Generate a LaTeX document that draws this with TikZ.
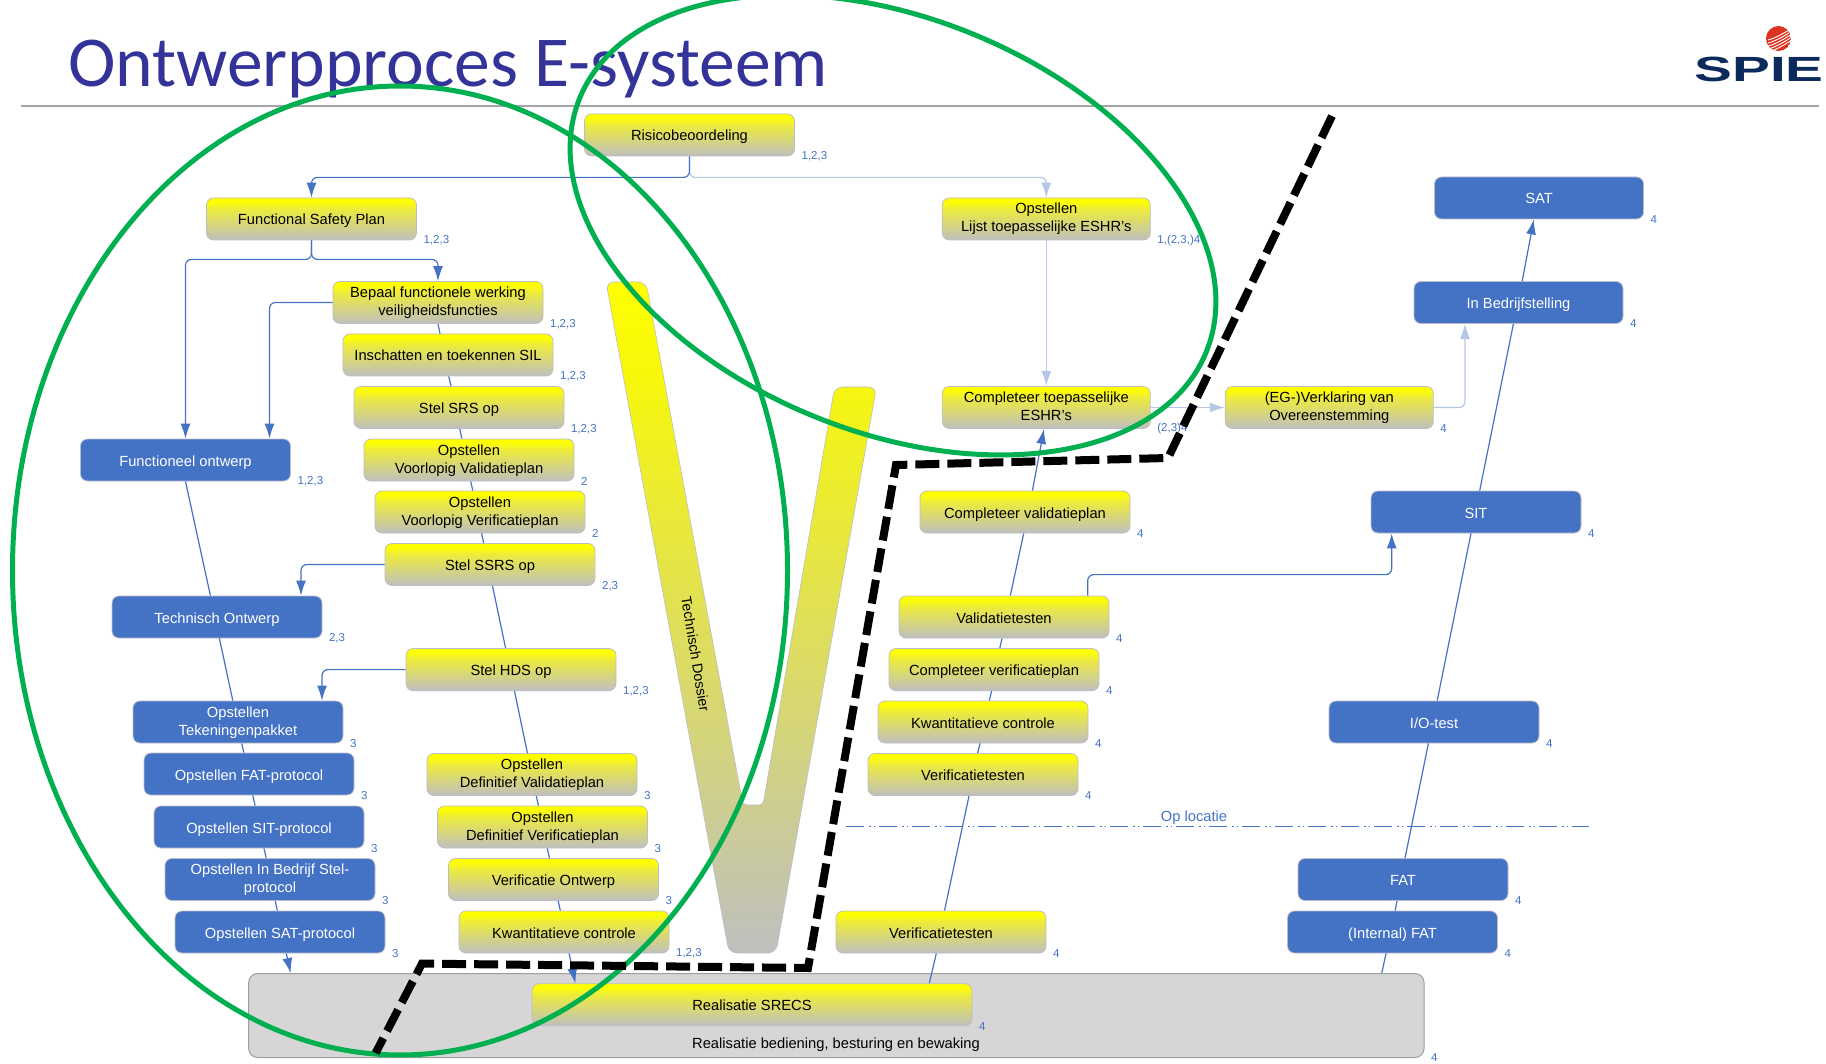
\documentclass[tikz,border=0pt]{standalone}
\usepackage{fontspec}
\setmainfont{Liberation Sans}
\newfontfamily\titlefont{Carlito}
\usetikzlibrary{arrows.meta}
\definecolor{cblue}{HTML}{4472C4}
\definecolor{clight}{HTML}{B4C7E7}
\definecolor{cgreen}{HTML}{00B050}
\definecolor{cedge}{HTML}{BDBDC8}
\definecolor{ctitle}{HTML}{333399}
\definecolor{cnavy}{HTML}{0B2A5B}
\definecolor{cgrey}{HTML}{D6D6D6}
\definecolor{cred}{HTML}{DC3220}
\definecolor{ygrey}{HTML}{BFBFBF}
\definecolor{ymid}{HTML}{EDEB3C}
\definecolor{vgrey}{HTML}{BFBFBF}
\definecolor{vmid}{HTML}{F7F70C}
\pgfdeclareverticalshading{ybox}{100bp}{color(0bp)=(ygrey);color(25bp)=(ygrey);color(62bp)=(ymid);color(71bp)=(yellow);color(100bp)=(yellow)}
\pgfdeclareverticalshading{vshape}{100bp}{color(0bp)=(vgrey);color(25bp)=(vgrey);color(68bp)=(vmid);color(75bp)=(yellow);color(100bp)=(yellow)}
\tikzset{
  boxbase/.style={rounded corners=7pt,minimum width=210pt,minimum height=42pt,inner sep=0pt,align=center,draw=cedge,line width=0.8pt,
    font=\fontsize{14.7}{18}\selectfont,execute at begin node={\rule[-3.5pt]{0pt}{19pt}}},
  twol/.style={execute at begin node={\rule[-3.5pt]{0pt}{33pt}}},
  ybox/.style={boxbase,shading=ybox,text=black},
  bbox/.style={boxbase,fill=cblue,text=white},
  numlab/.style={text=cblue,font=\fontsize{11.5}{13}\selectfont,inner sep=0pt,anchor=west,xshift=6.5pt},
  conn/.style={draw=cblue,line width=1.2pt},
  lconn/.style={draw=clight,line width=1.2pt},
  tip/.style={-{Latex[length=15pt,width=10pt]}},
  elbow/.style={rounded corners=6pt},
  greenring/.style={draw=cgreen,line width=5pt},
  blackdash/.style={draw=black,line width=8pt,dash pattern=on 24pt off 8pt},
  oploc/.style={draw=cblue,line width=1pt,dash pattern=on 18pt off 5pt on 1.5pt off 3pt on 1.5pt off 4pt},
}
\newcommand{\lab}[2]{\node[numlab] (lab#1) at (#1.south east) {#2};}
\begin{document}
\begin{tikzpicture}[x=1pt,y=-1pt]
\clip (0,0) rectangle (1826,1064);
% title
\node[anchor=base west,inner sep=0pt,text=ctitle,font=\titlefont\fontsize{71.6}{72}\selectfont] (title) at (68,87) {Ontwerpproces E-systeem};
\coordinate (ruleL) at (21,106);
\coordinate (ruleR) at (1819,106);
\draw[color=black!35,line width=1.5pt] (ruleL) -- (ruleR);
% logo
\begin{scope}
\clip (1778.5,38.5) circle [radius=12.5pt];
\fill[cred] (1778.5,38.5) circle [radius=12.5pt];
\foreach \yy in {36,39,42,45,48}{
  \draw[white,line width=0.9pt] (1768,\yy+4) .. controls (1776,\yy+2) and (1784,\yy-3) .. (1792,\yy-8);
}
\end{scope}
\node[text=cnavy,font=\bfseries\fontsize{35}{35}\selectfont,xscale=1.62,transform shape,inner sep=0pt,anchor=base] (logo) at (1759,82) {SPIE};
% V
\path[shading=vshape,draw=cedge,line width=0.6pt,rounded corners=8pt]
  (606,282) -- (646,282) [rounded corners=4pt] -- (743,805) -- (763,805) [rounded corners=8pt] -- (834.6,387) -- (876.5,387) -- (776,953) -- (729,953) -- cycle;
\node[rotate=-80.7,font=\fontsize{14.3}{16}\selectfont,inner sep=0pt] (vtext) at (695.5,654) {Technisch Dossier};
% grey base
\node[draw=black!38,fill=cgrey,rounded corners=9pt,minimum width=1175.3pt,minimum height=84pt,inner sep=0pt,line width=1pt] (grey) at (836.35,1015.5) {};
\node[font=\fontsize{14.7}{18}\selectfont,inner sep=0pt] (greytext) at (836,1045) {Realisatie bediening, besturing en bewaking};
% yellow left column
\node[ybox] (ris) at (689.5,135) {Risicobeoordeling};
\node[ybox] (fsp) at (311.5,219) {Functional Safety Plan};
\node[ybox,twol] (bep) at (438,302.5) {Bepaal functionele werking\\veiligheidsfuncties};
\node[ybox] (ins) at (448,355) {Inschatten en toekennen SIL};
\node[ybox] (srs) at (459,407.5) {Stel SRS op};
\node[ybox,twol] (vv) at (469,460) {Opstellen\\Voorlopig Validatieplan};
\node[ybox,twol] (vf) at (480,512) {Opstellen\\Voorlopig Verificatieplan};
\node[ybox] (ssrs) at (490,564.5) {Stel SSRS op};
\node[ybox] (hds) at (511,669.6) {Stel HDS op};
\node[ybox,twol] (dval) at (532,774.5) {Opstellen\\Definitief Validatieplan};
\node[ybox,twol] (dver) at (542.5,827) {Opstellen\\Definitief Verificatieplan};
\node[ybox] (vo) at (553.5,879.5) {Verificatie Ontwerp};
\node[ybox] (kw) at (564,932) {Kwantitatieve controle};
% blue left column
\node[bbox] (fo) at (185.5,460) {Functioneel ontwerp};
\node[bbox] (tech) at (217,617) {Technisch Ontwerp};
\node[bbox,twol] (tek) at (238,722) {Opstellen\\Tekeningenpakket};
\node[bbox] (fatp) at (249,774) {Opstellen FAT-protocol};
\node[bbox] (sitp) at (259,827) {Opstellen SIT-protocol};
\node[bbox,twol] (ibp) at (270,879.5) {Opstellen In Bedrijf Stel-\\protocol};
\node[bbox] (satp) at (280,932) {Opstellen SAT-protocol};
% yellow right
\node[ybox,twol,minimum width=208pt] (lijst) at (1046.3,219) {Opstellen\\Lijst toepasselijke ESHR’s};
\node[ybox,twol,minimum width=208pt] (eshr) at (1046.3,407.5) {Completeer toepasselijke\\ESHR’s};
\node[ybox,twol,minimum width=208pt] (eg) at (1329.3,407.5) {(EG-)Verklaring van\\Overeenstemming};
\node[ybox] (cval) at (1025,512) {Completeer validatieplan};
\node[ybox] (val) at (1004,617) {Validatietesten};
\node[ybox] (cv) at (994,669.6) {Completeer verificatieplan};
\node[ybox] (kwr) at (983,722) {Kwantitatieve controle};
\node[ybox] (v1) at (973,774.5) {Verificatietesten};
\node[ybox] (v2) at (941,932) {Verificatietesten};
\node[ybox,minimum width=440pt] (srecs) at (752,1004.7) {Realisatie SRECS};
% blue right
\node[bbox,minimum width=209pt] (sat) at (1539,198) {SAT};
\node[bbox,minimum width=209pt] (ib) at (1518.5,302.5) {In Bedrijfstelling};
\node[bbox] (sit) at (1476,512) {SIT};
\node[bbox] (io) at (1434,722) {I/O-test};
\node[bbox] (fat) at (1403,879.5) {FAT};
\node[bbox] (int) at (1392.5,932) {(Internal) FAT};
% number labels
\lab{ris}{1,2,3}\lab{fsp}{1,2,3}\lab{bep}{1,2,3}\lab{ins}{1,2,3}\lab{srs}{1,2,3}\lab{vv}{2}\lab{vf}{2}
\lab{ssrs}{2,3}\lab{hds}{1,2,3}\lab{dval}{3}\lab{dver}{3}\lab{vo}{3}\lab{kw}{1,2,3}
\lab{fo}{1,2,3}\lab{tech}{2,3}\lab{tek}{3}\lab{fatp}{3}\lab{sitp}{3}\lab{ibp}{3}\lab{satp}{3}
\lab{lijst}{1,(2,3,)4}\lab{eshr}{(2,3)4}\lab{eg}{4}\lab{sat}{4}\lab{ib}{4}\lab{sit}{4}
\lab{cval}{4}\lab{val}{4}\lab{cv}{4}\lab{kwr}{4}\lab{v1}{4}\lab{v2}{4}
\lab{io}{4}\lab{fat}{4}\lab{int}{4}\lab{srecs}{4}\lab{grey}{4}
% light connectors
\draw[lconn,tip,elbow] (ris.south) -- ++(0,21) -| (lijst.north);
\draw[lconn,tip] (lijst.south) -- (eshr.north);
\draw[lconn,tip] (eshr.east) -- (eg.west);
\draw[lconn,tip,elbow] (eg.east) -| ([xshift=-53.5pt]ib.south);
% elbow connectors
\draw[conn,tip,elbow] (ris.south) -- ++(0,21) -| (fsp.north);
\draw[conn,tip,elbow] (fsp.south) -- ++(0,19) -| (fo.north);
\draw[conn,tip,elbow] (fsp.south) -- ++(0,19) -| (bep.north);
\draw[conn,tip,elbow] (bep.west) -| ([xshift=84pt]fo.north);
\draw[conn,tip,elbow] (ssrs.west) -| ([xshift=84pt]tech.north);
\draw[conn,tip,elbow] (hds.west) -| ([xshift=84pt]tek.north);
\draw[conn,tip,elbow] ([xshift=83.7pt]val.north) -- ++(0,-21) -| ([xshift=-84.3pt]sit.south);
% spine A
\draw[conn] (fo.south) -- ([xshift=-6.6pt]tech.north);
\draw[conn] ([xshift=2.4pt]tech.south) -- ([xshift=-5.2pt]tek.north);
\draw[conn] ([xshift=3.7pt]tek.south) -- ([xshift=-5.2pt]fatp.north);
\draw[conn] ([xshift=3.8pt]fatp.south) -- ([xshift=-3.9pt]sitp.north);
\draw[conn] ([xshift=5pt]sitp.south) -- ([xshift=-3.8pt]ibp.north);
\draw[conn] ([xshift=5.2pt]ibp.south) -- ([xshift=-2.6pt]satp.north);
\draw[conn,tip] ([xshift=6.3pt]satp.south) -- ([xshift=-545.75pt]grey.north);
% spine B
\draw[conn] (bep.south) -- ([xshift=-8pt]ins.north);
\draw[conn] ([xshift=0.8pt]ins.south) -- ([xshift=-8pt]srs.north);
\draw[conn] ([xshift=0.8pt]srs.south) -- ([xshift=-7.2pt]vv.north);
\draw[conn] ([xshift=1.7pt]vv.south) -- ([xshift=-7.2pt]vf.north);
\draw[conn] ([xshift=1.6pt]vf.south) -- ([xshift=-6.3pt]ssrs.north);
\draw[conn] ([xshift=2.5pt]ssrs.south) -- ([xshift=-5.4pt]hds.north);
\draw[conn] ([xshift=3.5pt]hds.south) -- ([xshift=-4.6pt]dval.north);
\draw[conn] ([xshift=4.3pt]dval.south) -- ([xshift=-4.1pt]dver.north);
\draw[conn] ([xshift=4.8pt]dver.south) -- ([xshift=-4pt]vo.north);
\draw[conn] ([xshift=4.7pt]vo.south) -- ([xshift=-3.7pt]kw.north);
\draw[conn,tip] ([xshift=5.1pt]kw.south) -- ([xshift=-176.6pt]srecs.north);
% spine C
\draw[conn] ([xshift=177.3pt]srecs.north) -- ([xshift=-4.7pt]v2.south);
\draw[conn] ([xshift=3.5pt]v2.north) -- ([xshift=-4pt]v1.south);
\draw[conn] ([xshift=4.6pt]v1.north) -- ([xshift=-3pt]kwr.south);
\draw[conn] ([xshift=6.3pt]kwr.north) -- ([xshift=-2.4pt]cv.south);
\draw[conn] ([xshift=5.8pt]cv.north) -- ([xshift=-2pt]val.south);
\draw[conn] ([xshift=6.3pt]val.north) -- ([xshift=-1.3pt]cval.south);
\draw[conn,tip] ([xshift=7.4pt]cval.north) -- ([xshift=-2.3pt]eshr.south);
% spine D
\draw[conn] ([xshift=545.45pt]grey.north) -- ([xshift=-6.5pt]int.south);
\draw[conn] ([xshift=2.7pt]int.north) -- ([xshift=-6pt]fat.south);
\draw[conn] ([xshift=2pt]fat.north) -- ([xshift=-5.6pt]io.south);
\draw[conn] ([xshift=3.2pt]io.north) -- ([xshift=-5pt]sit.south);
\draw[conn] ([xshift=3.7pt]sit.north) -- ([xshift=-5.1pt]ib.south);
\draw[conn,tip] ([xshift=3.7pt]ib.north) -- ([xshift=-5.2pt]sat.south);
% op locatie
\coordinate (opL) at (846,826.5);
\coordinate (opR) at (1588.6,826.5);
\draw[oploc] (opL) -- (opR);
\node[text=cblue,font=\fontsize{14.7}{18}\selectfont,inner sep=0pt] (optext) at (1194,817.4) {Op locatie};
% green rings
\draw[greenring] (400,570.5) ellipse [x radius=387.5pt,y radius=484.5pt];
\draw[greenring,rotate around={-22:(893,225)}] (893,225) ellipse [x radius=338pt,y radius=207pt];
% black dashed boundary
\coordinate (d1) at (1332,116);
\coordinate (d2) at (1168,458);
\coordinate (d3) at (896,465);
\coordinate (d4) at (808,968);
\coordinate (d5) at (422,963.6);
\coordinate (d6) at (375.6,1053);
\draw[blackdash] (d1) -- (d2) -- (d3) -- (d4) -- (d5) -- (d6);
\end{tikzpicture}
\end{document}
